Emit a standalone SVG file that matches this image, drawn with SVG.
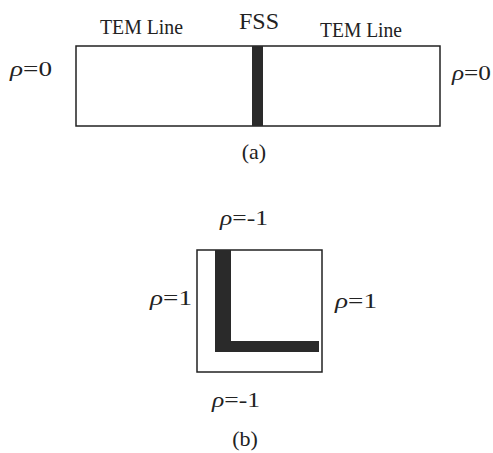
<svg xmlns="http://www.w3.org/2000/svg" width="493" height="453" viewBox="0 0 493 453">
<style>
text{font-family:"Liberation Serif","Times New Roman",serif;fill:#222}
.lbl{font-size:20px}
.cap{font-size:22px}
.rho{font-size:22px}
.box{fill:#fff;stroke:#222;stroke-width:1.5}
.bar{fill:#2a2a2a}
</style>
<rect width="493" height="453" fill="#fff"/>
<g id="panel-a">
<rect class="box" x="76" y="46" width="364" height="80"/>
<rect class="bar" x="252" y="46" width="11" height="80"/>
<text class="lbl" x="100" y="34" textLength="83" lengthAdjust="spacingAndGlyphs">TEM Line</text>
<text x="259" y="29" font-size="24" text-anchor="middle">FSS</text>
<text class="lbl" x="320" y="37" textLength="82" lengthAdjust="spacingAndGlyphs">TEM Line</text>
<text class="rho" x="10" y="76" textLength="42" lengthAdjust="spacingAndGlyphs"><tspan font-style="italic">ρ</tspan>=0</text>
<text class="rho" x="452" y="80" textLength="39" lengthAdjust="spacingAndGlyphs"><tspan font-style="italic">ρ</tspan>=0</text>
<text class="cap" x="254" y="159" text-anchor="middle">(a)</text>
</g>
<g id="panel-b">
<rect class="box" x="197" y="250" width="125" height="122"/>
<rect class="bar" x="215" y="250" width="16" height="102"/>
<rect class="bar" x="215" y="341" width="104" height="11"/>
<text class="rho" x="220" y="225" textLength="48" lengthAdjust="spacingAndGlyphs"><tspan font-style="italic">ρ</tspan>=-1</text>
<text class="rho" x="150" y="305" textLength="42" lengthAdjust="spacingAndGlyphs"><tspan font-style="italic">ρ</tspan>=1</text>
<text class="rho" x="335" y="308" textLength="42" lengthAdjust="spacingAndGlyphs"><tspan font-style="italic">ρ</tspan>=1</text>
<text class="rho" x="212" y="407" textLength="48" lengthAdjust="spacingAndGlyphs"><tspan font-style="italic">ρ</tspan>=-1</text>
<text class="cap" x="245" y="446" text-anchor="middle">(b)</text>
</g>
</svg>
